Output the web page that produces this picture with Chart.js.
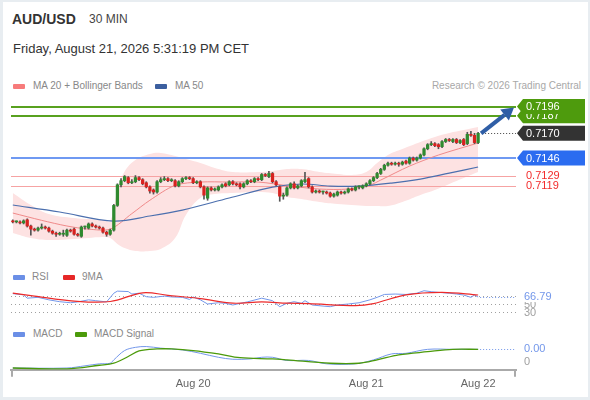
<!DOCTYPE html>
<html><head><meta charset="utf-8">
<script src="https://cdn.jsdelivr.net/npm/chart.js@4.4.1/dist/chart.umd.min.js"></script>
<style>
html,body{margin:0;padding:0;}
body{width:590px;height:400px;background:#e8edf1;position:relative;overflow:hidden;font-family:"Liberation Sans",Arial,sans-serif;}
#card{position:absolute;left:3px;top:2px;width:585px;height:395px;background:#fff;}
.t{position:absolute;white-space:nowrap;line-height:1;}
.sw{position:absolute;width:12px;height:5px;border-radius:1px;}
canvas{position:absolute;left:0;}
</style></head><body>
<div id="card"></div>
<div class="t" style="left:12px;top:12px;font-size:14px;font-weight:bold;color:#333">AUD/USD</div>
<div class="t" style="left:89px;top:13px;font-size:12px;color:#444">30 MIN</div>
<div class="t" style="left:13px;top:42px;font-size:13px;color:#333">Friday, August 21, 2026 5:31:19 PM CET</div>
<div class="sw" style="left:13px;top:84px;background:#f77b7b"></div>
<div class="t" style="left:33px;top:81px;font-size:10px;color:#888">MA 20 + Bollinger Bands</div>
<div class="sw" style="left:155px;top:84px;background:#3c5f9f"></div>
<div class="t" style="left:175px;top:81px;font-size:10px;color:#888">MA 50</div>
<div class="t" style="right:9px;top:81px;font-size:10px;color:#a8a8a8">Research © 2026 Trading Central</div>
<div class="sw" style="left:13px;top:275px;background:#6b8fe6"></div>
<div class="t" style="left:32px;top:272px;font-size:10px;color:#888">RSI</div>
<div class="sw" style="left:63px;top:275px;background:#e62727"></div>
<div class="t" style="left:82px;top:272px;font-size:10px;color:#888">9MA</div>
<div class="sw" style="left:13px;top:332px;background:#6b8fe6"></div>
<div class="t" style="left:33px;top:329px;font-size:10px;color:#888">MACD</div>
<div class="sw" style="left:75px;top:332px;background:#4b9a0a"></div>
<div class="t" style="left:94px;top:329px;font-size:10px;color:#888">MACD Signal</div>
<canvas id="price" width="590" height="165" style="top:95px;width:590px;height:165px"></canvas>
<canvas id="rsi" width="590" height="35" style="top:285px;width:590px;height:35px"></canvas>
<canvas id="macd" width="590" height="60" style="top:340px;width:590px;height:60px"></canvas>
<script>
// ---------- DATA ----------
const tickIdx = [50, 98, 129];
const tickLabels = ['Aug 20', 'Aug 21', 'Aug 22'];

const open = [
0.7085,0.7084,0.7084,0.7083,0.7086,0.7080,0.7077,0.7076,0.7078,0.7079,
0.7078,0.7075,0.7073,0.7072,0.7072,0.7071,0.7076,0.7077,0.7072,0.7070,
0.7079,0.7078,0.7082,0.7080,0.7079,0.7078,0.7074,0.7072,0.7076,0.7100,
0.7120,0.7124,0.7127,0.7122,0.7123,0.7127,0.7125,0.7122,0.7118,0.7115,
0.7113,0.7123,0.7125,0.7126,0.7124,0.7124,0.7119,0.7123,0.7126,0.7127,
0.7126,0.7122,0.7123,0.7118,0.7107,0.7117,0.7115,0.7115,0.7118,0.7121,
0.7120,0.7123,0.7121,0.7121,0.7118,0.7121,0.7124,0.7123,0.7126,0.7125,
0.7130,0.7128,0.7131,0.7123,0.7118,0.7109,0.7110,0.7117,0.7121,0.7117,
0.7119,0.7123,0.7126,0.7118,0.7113,0.7114,0.7113,0.7113,0.7112,0.7109,
0.7110,0.7113,0.7112,0.7113,0.7116,0.7115,0.7118,0.7117,0.7119,0.7121,
0.7124,0.7127,0.7131,0.7135,0.7139,0.7141,0.7140,0.7141,0.7140,0.7143,
0.7141,0.7146,0.7144,0.7146,0.7149,0.7155,0.7159,0.7160,0.7159,0.7157,
0.7162,0.7164,0.7162,0.7164,0.7161,0.7164,0.7160,0.7169,0.7168,0.7161];
const high = [
0.7086,0.7085,0.7085,0.7086,0.7087,0.7081,0.7078,0.7079,0.7082,0.7080,
0.7079,0.7076,0.7074,0.7074,0.7076,0.7077,0.7077,0.7078,0.7073,0.7080,
0.7080,0.7083,0.7083,0.7081,0.7080,0.7079,0.7075,0.7077,0.7101,0.7121,
0.7126,0.7129,0.7128,0.7125,0.7129,0.7128,0.7126,0.7123,0.7119,0.7116,
0.7124,0.7127,0.7128,0.7127,0.7126,0.7125,0.7124,0.7127,0.7128,0.7128,
0.7127,0.7124,0.7124,0.7119,0.7118,0.7118,0.7117,0.7119,0.7121,0.7122,
0.7124,0.7124,0.7122,0.7122,0.7122,0.7125,0.7125,0.7127,0.7127,0.7131,
0.7131,0.7133,0.7132,0.7124,0.7119,0.7112,0.7118,0.7122,0.7123,0.7120,
0.7125,0.7132,0.7127,0.7119,0.7115,0.7115,0.7114,0.7114,0.7113,0.7112,
0.7114,0.7114,0.7114,0.7117,0.7117,0.7119,0.7119,0.7120,0.7122,0.7125,
0.7128,0.7132,0.7136,0.7140,0.7142,0.7142,0.7142,0.7142,0.7143,0.7144,
0.7147,0.7147,0.7147,0.7150,0.7156,0.7160,0.7162,0.7161,0.7160,0.7163,
0.7165,0.7165,0.7165,0.7165,0.7164,0.7165,0.7171,0.7172,0.7170,0.7171];
const low = [
0.7083,0.7083,0.7082,0.7082,0.7079,0.7071,0.7075,0.7075,0.7077,0.7077,
0.7074,0.7072,0.7070,0.7071,0.7070,0.7070,0.7074,0.7071,0.7070,0.7069,
0.7077,0.7077,0.7079,0.7078,0.7077,0.7073,0.7070,0.7071,0.7075,0.7099,
0.7118,0.7123,0.7121,0.7121,0.7122,0.7124,0.7120,0.7117,0.7112,0.7111,
0.7112,0.7122,0.7124,0.7123,0.7123,0.7118,0.7118,0.7122,0.7125,0.7125,
0.7121,0.7121,0.7117,0.7106,0.7105,0.7114,0.7114,0.7114,0.7117,0.7118,
0.7119,0.7120,0.7119,0.7116,0.7117,0.7120,0.7122,0.7122,0.7124,0.7124,
0.7128,0.7127,0.7122,0.7119,0.7104,0.7106,0.7109,0.7116,0.7116,0.7116,
0.7118,0.7122,0.7117,0.7112,0.7112,0.7112,0.7111,0.7111,0.7108,0.7108,
0.7109,0.7111,0.7111,0.7112,0.7114,0.7114,0.7116,0.7116,0.7118,0.7120,
0.7123,0.7126,0.7130,0.7134,0.7138,0.7139,0.7139,0.7138,0.7139,0.7140,
0.7140,0.7143,0.7143,0.7145,0.7148,0.7154,0.7158,0.7157,0.7155,0.7156,
0.7161,0.7162,0.7161,0.7160,0.7160,0.7158,0.7159,0.7167,0.7160,0.7160];
const close = [
0.7084,0.7084,0.7083,0.7085,0.7080,0.7077,0.7076,0.7078,0.7079,0.7078,
0.7075,0.7073,0.7072,0.7072,0.7073,0.7076,0.7075,0.7072,0.7071,0.7079,
0.7079,0.7082,0.7080,0.7079,0.7078,0.7074,0.7072,0.7076,0.7100,0.7120,
0.7124,0.7128,0.7122,0.7123,0.7127,0.7125,0.7121,0.7118,0.7114,0.7113,
0.7123,0.7125,0.7126,0.7124,0.7125,0.7119,0.7123,0.7126,0.7127,0.7126,
0.7122,0.7123,0.7118,0.7110,0.7117,0.7115,0.7116,0.7118,0.7120,0.7119,
0.7123,0.7121,0.7120,0.7118,0.7121,0.7124,0.7123,0.7126,0.7125,0.7130,
0.7129,0.7131,0.7123,0.7120,0.7109,0.7110,0.7117,0.7121,0.7117,0.7119,
0.7124,0.7125,0.7118,0.7113,0.7114,0.7113,0.7113,0.7112,0.7109,0.7111,
0.7113,0.7112,0.7113,0.7116,0.7115,0.7118,0.7118,0.7119,0.7121,0.7124,
0.7127,0.7131,0.7135,0.7139,0.7141,0.7140,0.7141,0.7140,0.7142,0.7141,
0.7146,0.7144,0.7146,0.7149,0.7155,0.7159,0.7160,0.7158,0.7157,0.7162,
0.7164,0.7163,0.7164,0.7161,0.7163,0.7159,0.7169,0.7168,0.7161,0.7170];

const bandIdx   = [0,5,10,17,25,27,29,31,34,38,41,45,48,52,56,61,68,72,76,80,85,90,94,98,101,104,108,113,117,121,125,129];
const bandUpper = [0.7112,0.71004,0.70916,0.70877,0.70858,0.70848,0.7115,0.7133,0.71441,0.71499,0.71509,0.71479,0.7145,0.71411,0.71363,0.71324,
                   0.71324,0.71334,0.71353,0.71353,0.71324,0.71305,0.71295,0.71324,0.71411,0.71489,0.71547,0.71615,0.71664,0.71703,0.71732,0.71761];
const bandLower = [0.70732,0.70683,0.70664,0.70673,0.70693,0.70683,0.70625,0.70586,0.70557,0.70557,0.70576,0.70683,0.70907,0.71072,0.7111,0.7112,
                   0.7113,0.7112,0.71081,0.71062,0.71033,0.71013,0.71004,0.70994,0.70994,0.70994,0.71033,0.71101,0.71149,0.71208,0.71266,0.71324];
const ma20Idx = [0,8,15,21,27,33,38,45,52,60,68,77,85,93,99,102,110,118,129];
const ma20    = [0.70926,0.70855,0.7080,0.7077,0.7077,0.7092,0.7105,0.71195,0.71227,0.71227,0.71227,0.71188,0.71159,0.71159,0.71198,0.71246,0.71382,0.71489,0.71606];
const ma50Idx = [0,13,28,38,47,60,72,80,88,96,105,113,121,129];
const ma50    = [0.71004,0.70936,0.70848,0.70897,0.70955,0.71072,0.71178,0.71208,0.71188,0.71188,0.71217,0.71256,0.71314,0.71373];

const levelNames  = ['R2', 'R1', 'Last', 'Pivot', 'S1', 'S2'];
const levelValues = [0.7196, 0.7187, 0.7170, 0.7146, 0.7129, 0.7119];

const rsiIdx = [0,3,4,7,10,13,16,18,21,23,26,28,29,32,33,35,37,39,42,44,47,49,50,52,54,57,59,61,63,65,69,72,74,76,78,80,81,83,86,88,90,93,96,99,101,103,106,109,112,114,116,118,121,123,125,127,128,129];
const rsi    = [75,72,64,66,60,55.5,53,55,60,58,55,76,81,80,74,76,67.6,66,69,67,66,61,67,60,50,53,51.5,47.5,51.5,55,64,58,43.5,51.7,55.5,51.7,58,47.5,45,43.5,47.5,50,53,60,66,73,74,73,76,82,79.7,78,76,74,71.6,66,71.6,66.79];
const rsiMaIdx = [0,6,17,27,36,43,52,61,69,76,82,95,100,109,119,129];
const rsiMa    = [76,69,57,56,77,71,63,52,55,52,51,46,51,72,78,71.7];
const rsiLevels = [70, 50, 30];

const macdIdx = [0,15,20,24,27,28,31,34,37,41,47,52,57,61,66,69,72,76,82,87,95,100,105,109,115,122,129];
const macd    = [-0.00018,-0.00018,-0.000125,-0.000075,-0.00006,0.000025,0.00026,0.00034,0.00036,0.00032,0.000275,0.00019,0.00009,0.00004,0.00005,0.00009,0.00009,0.00001,0.00001,-0.000075,-0.000075,0.000025,0.000175,0.00019,0.00029,0.00029,0.00029];
const signalIdx = [0,15,24,28,32,35,40,44,50,57,63,72,76,88,96,101,107,115,122,129];
const signal    = [-0.00018,-0.0002,-0.00011,-0.00006,0.00011,0.00025,0.0003,0.0003,0.00026,0.000175,0.00008,0.00005,0.000025,-0.00006,-0.00006,0.000025,0.00015,0.00023,0.00029,0.00029];

// ---------- STYLE / LAYOUT ----------
const FONT = '"Liberation Sans", Arial, sans-serif';
Chart.defaults.font.family = FONT;
const upColor = '#2f8a2f', downColor = '#d8221f';
const levelStyle = {
  R2:    {line:'#58a11f', lineWidth:2, box:'#4e9b0d', text:'#ffffff'},
  R1:    {line:'#58a11f', lineWidth:2, box:'#4e9b0d', text:'#ffffff'},
  Last:  {dotted:'#444444', box:'#333333', text:'#ffffff'},
  Pivot: {line:'#6f99f2', lineWidth:2, box:'#2b6cf0', text:'#ffffff'},
  S1:    {line:'#f6a3a3', lineWidth:1, text:'#f22b2b'},
  S2:    {line:'#f6a3a3', lineWidth:1, text:'#f22b2b'}
};
const X_MIN = -0.5, X_MAX = 139.5;
const pad = {left:11, right:74, top:0, bottom:0};
const xHidden = {type:'linear', min:X_MIN, max:X_MAX, offset:false, display:false, grid:{offset:false}};
const pts = (idx, vals) => idx.map((x, k) => ({x, y: vals[k]}));
const xIdx = close.map((_, i) => i);
const lastIdx = xIdx[xIdx.length - 1];
const baseOpts = {responsive:false, animation:false, events:[], plugins:{legend:{display:false}, tooltip:{enabled:false}}};

// ---------- PRICE ----------
const pricePlugin = {
  id:'pricePlugin',
  afterDatasetDraw(chart, args) {
    if (args.index !== 1) return;
    const {ctx, chartArea:a, scales:{y}} = chart;
    levelNames.forEach((n, k) => {
      const st = levelStyle[n];
      if (!st.line) return;
      const py = Math.round(y.getPixelForValue(levelValues[k])) + (st.lineWidth % 2 ? 0.5 : 0);
      ctx.save();
      ctx.strokeStyle = st.line; ctx.lineWidth = st.lineWidth;
      ctx.beginPath(); ctx.moveTo(a.left, py); ctx.lineTo(a.right, py); ctx.stroke();
      ctx.restore();
    });
  },
  afterDraw(chart) {
    const {ctx, chartArea:a, scales:{x, y}} = chart;
    const lx = x.getPixelForValue(lastIdx);
    const ly = y.getPixelForValue(close[lastIdx]);
    ctx.save();
    const lastK = levelNames.indexOf('Last');
    const lpy = Math.round(y.getPixelForValue(levelValues[lastK])) + 0.5;
    ctx.strokeStyle = levelStyle.Last.dotted; ctx.lineWidth = 1; ctx.setLineDash([1, 2]);
    ctx.beginPath(); ctx.moveTo(lx + 4, lpy); ctx.lineTo(a.right, lpy); ctx.stroke();
    ctx.setLineDash([]);
    const r2y = y.getPixelForValue(levelValues[levelNames.indexOf('R2')]);
    const sx = lx + 3, sy = ly, tx = a.right - 2, ty = r2y + 1;
    const ang = Math.atan2(ty - sy, tx - sx);
    const hl = 12, hw = 7;
    const bx = tx - hl * Math.cos(ang), by = ty - hl * Math.sin(ang);
    ctx.strokeStyle = '#2f5ea6'; ctx.fillStyle = '#2f5ea6'; ctx.lineWidth = 4; ctx.lineCap = 'butt';
    ctx.beginPath(); ctx.moveTo(sx, sy); ctx.lineTo(bx, by); ctx.stroke();
    ctx.beginPath();
    ctx.moveTo(tx, ty);
    ctx.lineTo(bx + hw * Math.sin(ang), by - hw * Math.cos(ang));
    ctx.lineTo(bx - hw * Math.sin(ang), by + hw * Math.cos(ang));
    ctx.closePath(); ctx.fill();
    ctx.font = '11px ' + FONT; ctx.textBaseline = 'middle'; ctx.textAlign = 'left';
    for (let k = levelNames.length - 1; k >= 0; k--) {
      const st = levelStyle[levelNames[k]];
      const py = y.getPixelForValue(levelValues[k]);
      const bx0 = a.right + 1, h = 15, w = 68;
      if (st.box) {
        ctx.fillStyle = st.box;
        ctx.beginPath();
        ctx.moveTo(bx0, py); ctx.lineTo(bx0 + 6, py - h / 2); ctx.lineTo(bx0 + w, py - h / 2);
        ctx.lineTo(bx0 + w, py + h / 2); ctx.lineTo(bx0 + 6, py + h / 2); ctx.closePath(); ctx.fill();
      }
      ctx.fillStyle = st.text;
      ctx.fillText(levelValues[k].toFixed(4), bx0 + 9, py + 0.5);
    }
    ctx.restore();
  }
};

new Chart(document.getElementById('price'), {
  type:'bar',
  data:{datasets:[
    {type:'line', data:pts(bandIdx, bandUpper), borderWidth:0, pointRadius:0, fill:'+1', backgroundColor:'#fde2e2', tension:0.4, order:10},
    {type:'line', data:pts(bandIdx, bandLower), borderWidth:0, pointRadius:0, fill:false, tension:0.4, order:9},
    {type:'line', data:pts(ma20Idx, ma20), borderColor:'#f08a8a', borderWidth:1, pointRadius:0, tension:0.3, fill:false, order:5},
    {type:'line', data:pts(ma50Idx, ma50), borderColor:'#4b6fae', borderWidth:1.2, pointRadius:0, tension:0.35, fill:false, order:4},
    {type:'bar', data:xIdx.map(i => ({x:i, y:[low[i], high[i]]})), backgroundColor:'#555555', barThickness:1, grouped:false, order:2},
    {type:'bar', data:xIdx.map(i => ({x:i, y:[open[i], close[i]]})), backgroundColor:xIdx.map(i => close[i] >= open[i] ? upColor : downColor),
      barThickness:2.6, minBarLength:1, grouped:false, order:1}
  ]},
  options:Object.assign({}, baseOpts, {
    layout:{padding:pad},
    scales:{x:xHidden, y:{type:'linear', min:0.7047, max:0.72072, display:false}}
  }),
  plugins:[pricePlugin]
});

// ---------- RSI ----------
const rsiPlugin = {
  id:'rsiPlugin',
  beforeDatasetsDraw(chart) {
    const {ctx, chartArea:a, scales:{y}} = chart;
    ctx.save(); ctx.strokeStyle = '#a0a0a0'; ctx.lineWidth = 1; ctx.setLineDash([1, 3]);
    rsiLevels.forEach(v => {
      const py = Math.round(y.getPixelForValue(v)) + 0.5;
      ctx.beginPath(); ctx.moveTo(a.left, py); ctx.lineTo(a.right, py); ctx.stroke();
    });
    ctx.restore();
  },
  afterDraw(chart) {
    const {ctx, chartArea:a, scales:{x, y}} = chart;
    const lv = rsi[rsi.length - 1];
    const lx = x.getPixelForValue(rsiIdx[rsiIdx.length - 1]);
    const ly = y.getPixelForValue(lv);
    ctx.save();
    ctx.strokeStyle = '#7397ea'; ctx.lineWidth = 1; ctx.setLineDash([1, 2]);
    ctx.beginPath(); ctx.moveTo(lx + 2, Math.round(ly) + 0.5); ctx.lineTo(a.right, Math.round(ly) + 0.5); ctx.stroke();
    ctx.setLineDash([]);
    ctx.font = '11px ' + FONT; ctx.textBaseline = 'middle'; ctx.textAlign = 'left';
    ctx.fillStyle = '#a0a0a0';
    rsiLevels.forEach(v => ctx.fillText(String(v), a.right + 8, y.getPixelForValue(v) + 1));
    ctx.fillStyle = '#ffffff'; ctx.fillRect(a.right + 6, ly - 6, 36, 11);
    ctx.fillStyle = '#7397ea'; ctx.fillText(lv.toFixed(2), a.right + 8, ly);
    ctx.restore();
  }
};
new Chart(document.getElementById('rsi'), {
  type:'line',
  data:{datasets:[
    {data:pts(rsiIdx, rsi), borderColor:'#7397ea', borderWidth:1, pointRadius:0, tension:0, order:2},
    {data:pts(rsiMaIdx, rsiMa), borderColor:'#ec2a2a', borderWidth:1.2, pointRadius:0, tension:0.35, order:1}
  ]},
  options:Object.assign({}, baseOpts, {
    layout:{padding:pad},
    scales:{x:xHidden, y:{type:'linear', min:11.4, max:95.8, display:false}}
  }),
  plugins:[rsiPlugin]
});

// ---------- MACD ----------
const macdPlugin = {
  id:'macdPlugin',
  afterDraw(chart) {
    const {ctx, chartArea:a, scales:{x, y}} = chart;
    const lv = macd[macd.length - 1];
    const lx = x.getPixelForValue(macdIdx[macdIdx.length - 1]);
    const ly = y.getPixelForValue(lv);
    ctx.save();
    ctx.strokeStyle = '#7397ea'; ctx.lineWidth = 1; ctx.setLineDash([1, 2]);
    ctx.beginPath(); ctx.moveTo(lx + 2, Math.round(ly) + 0.5); ctx.lineTo(a.right, Math.round(ly) + 0.5); ctx.stroke();
    ctx.setLineDash([]);
    ctx.font = '11px ' + FONT; ctx.textBaseline = 'middle'; ctx.textAlign = 'left';
    ctx.fillStyle = '#a0a0a0'; ctx.fillText('0', a.right + 8, y.getPixelForValue(0) + 1);
    ctx.fillStyle = '#7397ea'; ctx.fillText(lv.toFixed(2), a.right + 8, ly);
    ctx.strokeStyle = '#aaaaaa'; ctx.lineWidth = 2;
    [a.left + 1, a.right - 1].forEach(px => {
      ctx.beginPath(); ctx.moveTo(px, a.bottom); ctx.lineTo(px, a.bottom + 7); ctx.stroke();
    });
    ctx.restore();
  }
};
new Chart(document.getElementById('macd'), {
  type:'line',
  data:{datasets:[
    {data:pts(macdIdx, macd), borderColor:'#7397ea', borderWidth:1, pointRadius:0, tension:0.35, order:2},
    {data:pts(signalIdx, signal), borderColor:'#4b9a0a', borderWidth:1.3, pointRadius:0, tension:0.35, order:1}
  ]},
  options:Object.assign({}, baseOpts, {
    layout:{padding:{left:11, right:74, top:0, bottom:1}},
    scales:{
      x:{type:'linear', min:X_MIN, max:X_MAX, offset:false,
         grid:{display:false, drawTicks:false, offset:false},
         border:{display:true, color:'#aaaaaa', width:2},
         afterBuildTicks:(s) => { s.ticks = tickIdx.map(v => ({value:v})); },
         ticks:{autoSkip:false, maxRotation:0, padding:8, color:'#666666', font:{size:11},
                callback:(v) => { const k = tickIdx.indexOf(v); return k < 0 ? '' : tickLabels[k]; }}},
      y:{type:'linear', min:-0.000225, max:0.000525, display:false}
    }
  }),
  plugins:[macdPlugin]
});
</script>
</body></html>
